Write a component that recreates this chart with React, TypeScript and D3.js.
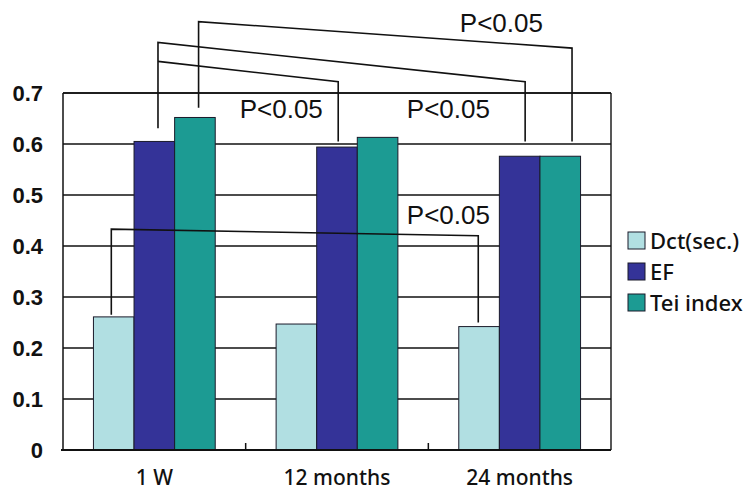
import React, { useEffect, useRef } from "react"
import * as d3 from "d3"

const categories = ["1 W", "12 months", "24 months"]
const seriesNames = ["Dct(sec.)", "EF", "Tei index"]
const dctValues = [0.261, 0.247, 0.242]
const efValues = [0.605, 0.594, 0.576]
const teiValues = [0.652, 0.613, 0.576]
const yTicks = [0, 0.1, 0.2, 0.3, 0.4, 0.5, 0.6, 0.7]
const colors = ["#b1dfe2", "#343398", "#1c9b93"]

// significance brackets: [category, series, shift] at each end, heights in data units
const brackets = [
  { from: [0, 2, 0.09], to: [2, 2, 0.29], ys: [0.671, 0.84, 0.788, 0.605] },
  { from: [0, 1, 0.09], to: [2, 1, 0.135], ys: [0.631, 0.799, 0.722, 0.605] },
  { from: [0, 1, 0.09], to: [1, 1, 0.03], ys: [0.762, 0.762, 0.722, 0.605] },
  { from: [0, 0, -0.06], to: [2, 0, -0.02], ys: [0.265, 0.433, 0.42, 0.25] },
]
const pLabels = [
  { text: "P<0.05", cat: 2, frac: 0.4, value: 0.82 },
  { text: "P<0.05", cat: 1, frac: 0.195, value: 0.651 },
  { text: "P<0.05", cat: 2, frac: 0.11, value: 0.651 },
  { text: "P<0.05", cat: 2, frac: 0.11, value: 0.443 },
]

const App = () => {
  const ref = useRef<SVGSVGElement>(null)

  useEffect(() => {
    const svg = d3.select(ref.current)
    svg.selectAll("*").remove()

    const left = 63, right = 611, top = 93, bottom = 450
    const data = [dctValues, efValues, teiValues]

    const x = d3.scaleBand<number>().domain(d3.range(categories.length)).range([left, right])
    const xs = d3.scaleBand<number>()
      .domain(d3.range(seriesNames.length))
      .range([0, x.bandwidth()])
      .paddingOuter(0.75)
    const y = d3.scaleLinear().domain([0, 0.7]).range([bottom, top])

    const barCenter = (c: number, s: number, shift: number) =>
      (x(c) as number) + (xs(s) as number) + xs.bandwidth() * (0.5 + shift)

    // gridlines
    svg.append("g")
      .selectAll("line")
      .data(yTicks.slice(1))
      .enter()
      .append("line")
      .attr("x1", left).attr("x2", right)
      .attr("y1", d => y(d)).attr("y2", d => y(d))
      .attr("stroke", "#111").attr("stroke-width", 1.4)

    // frame
    svg.append("line").attr("x1", right).attr("x2", right).attr("y1", top).attr("y2", bottom)
      .attr("stroke", "#111").attr("stroke-width", 1.4)
    svg.append("line").attr("x1", left).attr("x2", left).attr("y1", top).attr("y2", bottom)
      .attr("stroke", "#111").attr("stroke-width", 1.5)

    // bars
    data.forEach((vals, s) => {
      svg.append("g")
        .selectAll("rect")
        .data(vals)
        .enter()
        .append("rect")
        .attr("x", (d, i) => (x(i) as number) + (xs(s) as number))
        .attr("width", xs.bandwidth())
        .attr("y", d => y(d))
        .attr("height", d => bottom - y(d))
        .attr("fill", colors[s])
        .attr("stroke", "#1a1a2a")
        .attr("stroke-width", 1)
    })

    // x axis line + inward ticks
    svg.append("line").attr("x1", left - 2).attr("x2", right).attr("y1", bottom).attr("y2", bottom)
      .attr("stroke", "#111").attr("stroke-width", 2)
    svg.append("g")
      .selectAll("line")
      .data(d3.range(1, categories.length))
      .enter()
      .append("line")
      .attr("x1", d => x(d) as number).attr("x2", d => x(d) as number)
      .attr("y1", bottom).attr("y2", bottom - 7)
      .attr("stroke", "#111").attr("stroke-width", 1.5)

    // y labels
    svg.append("g")
      .selectAll("text")
      .data(yTicks)
      .enter()
      .append("text")
      .attr("x", 43)
      .attr("y", d => y(d) + 8)
      .attr("text-anchor", "end")
      .style("font-family", "'Liberation Sans', Arial, sans-serif")
      .style("font-weight", "bold")
      .style("font-size", "22px")
      .attr("fill", "#111")
      .text(d => (d === 0 ? "0" : d.toFixed(1)))

    // x labels
    svg.append("g")
      .selectAll("text")
      .data(categories)
      .enter()
      .append("text")
      .attr("x", (d, i) => (x(i) as number) + x.bandwidth() / 2)
      .attr("y", 485)
      .attr("text-anchor", "middle")
      .style("font-family", "'Noto Sans', sans-serif")
      .style("font-size", "21px")
      .style("font-weight", 500)
      .attr("fill", "#111")
      .text(d => d)

    // top border
    svg.append("line").attr("x1", left).attr("x2", right).attr("y1", top).attr("y2", top)
      .attr("stroke", "#111").attr("stroke-width", 1.4)

    // brackets
    const line = d3.line<[number, number]>()
    brackets.forEach(b => {
      const x1 = barCenter(b.from[0], b.from[1], b.from[2])
      const x2 = barCenter(b.to[0], b.to[1], b.to[2])
      const pts: [number, number][] = [
        [x1, y(b.ys[0])], [x1, y(b.ys[1])], [x2, y(b.ys[2])], [x2, y(b.ys[3])],
      ]
      svg.append("path")
        .attr("d", line(pts))
        .attr("fill", "none")
        .attr("stroke", "#111")
        .attr("stroke-width", 1.6)
    })

    svg.append("g")
      .selectAll("text")
      .data(pLabels)
      .enter()
      .append("text")
      .attr("x", d => (x(d.cat) as number) + x.bandwidth() * d.frac)
      .attr("y", d => y(d.value))
      .attr("text-anchor", "middle")
      .style("font-family", "'Liberation Sans', Arial, sans-serif")
      .style("font-size", "26px")
      .attr("fill", "#111")
      .text(d => d.text)

    // legend
    const legend = svg.append("g").attr("transform", "translate(628,232)")
    const items = legend.selectAll("g")
      .data(seriesNames)
      .enter()
      .append("g")
      .attr("transform", (d, i) => "translate(0," + i * 31 + ")")
    items.append("rect")
      .attr("width", 17).attr("height", 17)
      .attr("fill", (d, i) => colors[i])
      .attr("stroke", "#1a1a2a").attr("stroke-width", 1)
    items.append("text")
      .attr("x", 22).attr("y", 17)
      .style("font-family", "'Noto Sans', sans-serif")
      .style("font-size", "22px")
      .style("font-weight", 500)
      .attr("fill", "#111")
      .text(d => d)
  }, [])

  return (
    <svg
      ref={ref}
      width={749}
      height={492}
      style={{ position: "absolute", left: 0, top: 0, background: "#fff" }}
    />
  )
}

export default App
